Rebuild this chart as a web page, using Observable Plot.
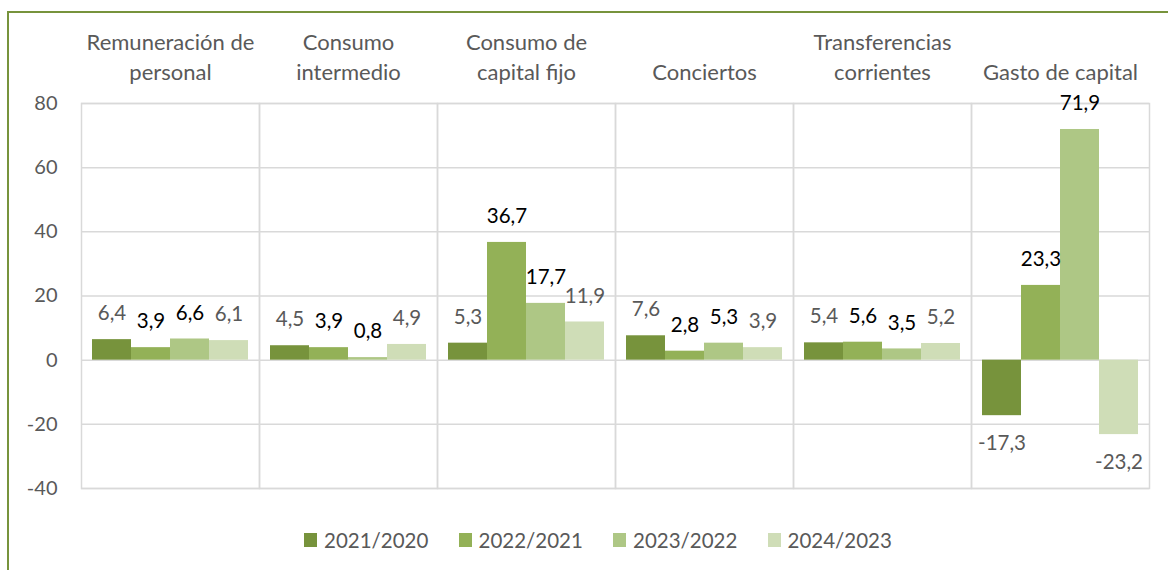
<!DOCTYPE html>
<html>
<head>
<meta charset="utf-8">
<script src="https://cdn.jsdelivr.net/npm/d3@7"></script>
<script src="https://cdn.jsdelivr.net/npm/@observablehq/plot@0.6"></script>
<style>
  html, body { margin: 0; padding: 0; background: #fff; }
  #wrap { position: relative; width: 1168px; height: 570px; overflow: hidden; font-family: Lato, "Open Sans", sans-serif; }
  #border { position: absolute; left: 7px; top: 11px; width: 1200px; height: 600px; border-left: 2.5px solid #77933c; border-top: 2.5px solid #77933c; pointer-events: none; }
  #chart { position: absolute; left: 0; top: 0; }
  #legend { position: absolute; top: 515px; left: 0; width: 1168px; height: 55px; }
  .item { position: absolute; top: 11px; height: 28px; display: flex; align-items: center; color: #595959; font-size: 20.5px; line-height: 28px; }
  .sw { width: 13px; height: 14px; margin-right: 7px; }
</style>
</head>
<body>
<div id="wrap">
  <div id="chart"></div>
  <div id="legend"></div>
  <div id="border"></div>
</div>
<script>
const categories = ["Remuneración de\npersonal", "Consumo\nintermedio", "Consumo de\ncapital fijo", "Conciertos", "Transferencias\ncorrientes", "Gasto de capital"];
const series = ["2021/2020", "2022/2021", "2023/2022", "2024/2023"];
const v2021_2020 = [6.4, 4.5, 5.3, 7.6, 5.4, -17.3];
const v2022_2021 = [3.9, 3.9, 36.7, 2.8, 5.6, 23.3];
const v2023_2022 = [6.6, 0.8, 17.7, 5.3, 3.5, 71.9];
const v2024_2023 = [6.1, 4.9, 11.9, 3.9, 5.2, -23.2];
const yTicks = [-40, -20, 0, 20, 40, 60, 80];
const barColors = ["#77933c", "#93b157", "#aec785", "#cfddb7"];
const labelColors = ["#595959", "#000000", "#000000", "#595959"];

const values = [v2021_2020, v2022_2021, v2023_2022, v2024_2023];
const data = [];
categories.forEach((c, i) => series.forEach((s, j) => data.push({cat: c, s, si: j, value: values[j][i]})));
const fmt = v => v.toFixed(1).replace(".", ",");

const labelMark = (filter, dy) => Plot.text(data.filter(filter), {
  fx: "cat", x: "s", y: "value", text: d => fmt(d.value),
  fill: d => labelColors[d.si], dy, fontSize: 20.5
});

const chart = Plot.plot({
  width: 1168,
  height: 515,
  marginLeft: 80,
  marginRight: 18,
  marginTop: 103,
  marginBottom: 27,
  style: {fontFamily: "Lato, 'Open Sans', sans-serif", fontSize: "20px", color: "#595959", background: "transparent"},
  fx: {domain: categories, padding: 0, axis: null},
  x: {domain: series, paddingInner: 0, paddingOuter: 0.23, axis: null},
  y: {domain: [-40, 80], ticks: yTicks, tickSize: 0, tickPadding: 24, label: null, tickFormat: d => String(d)},
  color: {domain: series, range: barColors},
  marks: [
    Plot.ruleY(yTicks, {stroke: "#d9d9d9", strokeWidth: 1.5}),
    Plot.frame({stroke: "#d9d9d9", strokeWidth: 1.5}),
    Plot.barY(data, {fx: "cat", x: "s", y: "value", fill: "s"}),
    labelMark(d => d.value >= 0, -26),
    labelMark(d => d.value < 0, 28),
    Plot.text(categories, {fx: d => d, text: d => d, frameAnchor: "top", lineAnchor: "bottom", lineHeight: 1.32, dy: -24, fill: "#595959", fontSize: 22})
  ]
});
document.getElementById("chart").appendChild(chart);

const legend = document.getElementById("legend");
series.forEach((s, j) => {
  const it = document.createElement("div");
  it.className = "item";
  it.style.left = (304 + j * 154.5) + "px";
  it.innerHTML = `<span class="sw" style="background:${barColors[j]}"></span><span>${s}</span>`;
  legend.appendChild(it);
});
</script>
</body>
</html>
